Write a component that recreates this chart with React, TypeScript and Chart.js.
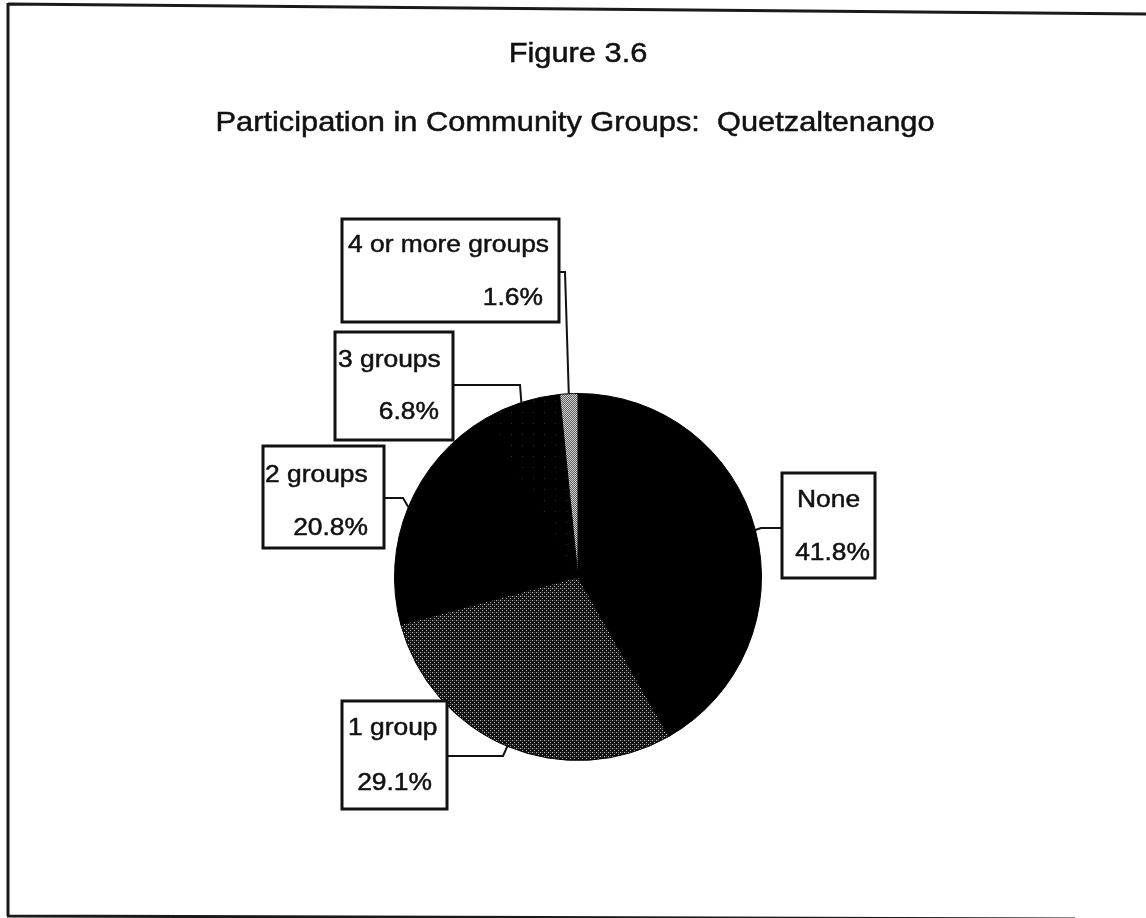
import { useEffect, useRef } from 'react';
import { Chart, registerables } from 'chart.js';

Chart.register(...registerables);

// ---------- data ----------
const figureTitle = 'Figure 3.6';
const chartTitle = 'Participation in Community Groups:  Quetzaltenango';
const categories = ['None', '1 group', '2 groups', '3 groups', '4 or more groups'];
const percentages = [41.8, 29.1, 20.8, 6.8, 1.6];
const percentLabels = ['41.8%', '29.1%', '20.8%', '6.8%', '1.6%'];

// ---------- label layout (px, relative to pie centre) ----------
const boxRects = [
  [204, -104, 93, 105],
  [-236, 124, 105, 108],
  [-315, -131, 121, 102],
  [-243, -245, 118, 108],
  [-236, -358, 217, 103],
];
const elbowPoints = [
  [183, -49],
  [-75, 179],
  [-175, -79],
  [-58, -192],
  [-13, -305],
];
const nameOffsets = [
  [15, 34],
  [6, 34],
  [2, 36],
  [3, 35],
  [6, 33],
];
const pctOffsets = [
  [5, 87],
  [15, 89],
  [16, 89],
  [14, 87],
  [16, 86],
];

const FONT = '"Liberation Sans", Arial, Helvetica, sans-serif';
const XSCALE = 1.1;

function makePattern(size: number, bg: string, dots: [number, number, string][]) {
  const c = document.createElement('canvas');
  c.width = size;
  c.height = size;
  const g = c.getContext('2d')!;
  g.fillStyle = bg;
  g.fillRect(0, 0, size, size);
  for (const [x, y, col] of dots) {
    g.fillStyle = col;
    g.fillRect(x, y, 1, 1);
  }
  return g.createPattern(c, 'repeat') as CanvasPattern;
}

function drawText(ctx: CanvasRenderingContext2D, text: string, x: number, y: number, size: number, align: CanvasTextAlign) {
  ctx.save();
  ctx.translate(x, y);
  ctx.scale(XSCALE, 1);
  ctx.font = `${size}px ${FONT}`;
  ctx.fillStyle = '#111';
  ctx.strokeStyle = '#111';
  ctx.lineWidth = 0.5;
  ctx.textAlign = align;
  ctx.textBaseline = 'alphabetic';
  ctx.fillText(text, 0, 0);
  ctx.strokeText(text, 0, 0);
  ctx.restore();
}

const annotationPlugin = {
  id: 'annotationPlugin',
  afterDraw(chart: any) {
    const ctx: CanvasRenderingContext2D = chart.ctx;
    const W = chart.width;

    // frame
    ctx.save();
    ctx.strokeStyle = '#1a1a1a';
    ctx.lineWidth = 3;
    ctx.beginPath();
    ctx.moveTo(8, 4);
    ctx.lineTo(W, 14);
    ctx.moveTo(8, 3);
    ctx.lineTo(8, 916);
    ctx.moveTo(7, 916);
    ctx.lineTo(1075, 919);
    ctx.stroke();
    ctx.restore();

    // titles
    drawText(ctx, figureTitle, 578, 62, 28, 'center');
    drawText(ctx, chartTitle, 575, 131, 28, 'center');

    // labels
    const meta = chart.getDatasetMeta(0);
    meta.data.forEach((arc: any, i: number) => {
      const cx = arc.x;
      const cy = arc.y;
      const r = arc.outerRadius;
      const mid = (arc.startAngle + arc.endAngle) / 2;
      const ax = cx + Math.cos(mid) * r;
      const ay = cy + Math.sin(mid) * r;
      const [bx, by, bw, bh] = boxRects[i];
      const x0 = cx + bx;
      const y0 = cy + by;
      const ex = cx + elbowPoints[i][0];
      const ey = cy + elbowPoints[i][1];
      const edgeX = x0 > ex ? x0 : x0 + bw;

      ctx.save();
      ctx.strokeStyle = '#111';
      ctx.lineWidth = 2;
      ctx.beginPath();
      ctx.moveTo(ax, ay);
      ctx.lineTo(ex, ey);
      ctx.lineTo(edgeX, ey);
      ctx.stroke();

      ctx.fillStyle = '#fff';
      ctx.fillRect(x0, y0, bw, bh);
      ctx.lineWidth = 3;
      ctx.strokeStyle = '#111';
      ctx.strokeRect(x0, y0, bw, bh);
      ctx.restore();

      drawText(ctx, categories[i], x0 + nameOffsets[i][0], y0 + nameOffsets[i][1], 24, 'left');
      drawText(ctx, percentLabels[i], x0 + bw - pctOffsets[i][0], y0 + pctOffsets[i][1], 24, 'right');
    });
  },
};

export default function App() {
  const canvasRef = useRef<HTMLCanvasElement | null>(null);

  useEffect(() => {
    document.body.style.margin = '0';
    document.body.style.background = '#fff';
    const canvas = canvasRef.current!;
    const oneGroup = makePattern(4, '#121212', [
      [0, 0, '#c8c8c8'],
      [2, 2, '#b0b0b0'],
      [2, 0, '#555555'],
    ]);
    const threeGroups = makePattern(11, '#000', [[5, 5, '#333']]);
    const fourPlus = makePattern(2, '#5a5a5a', [
      [0, 0, '#d4d4d4'],
      [1, 1, '#d4d4d4'],
    ]);

    const chart = new Chart(canvas, {
      type: 'pie',
      data: {
        labels: categories,
        datasets: [
          {
            data: percentages,
            backgroundColor: ['#000000', oneGroup, '#000000', threeGroups, fourPlus] as any,
            borderColor: '#000',
            borderWidth: 1,
          },
        ],
      },
      options: {
        responsive: false,
        maintainAspectRatio: false,
        animation: false,
        events: [],
        layout: { padding: { left: 394, right: 384, top: 393, bottom: 157 } },
        plugins: {
          legend: { display: false },
          tooltip: { enabled: false },
          title: { display: false },
        },
      },
      plugins: [annotationPlugin],
    });
    return () => chart.destroy();
  }, []);

  return (
    <div style={{ width: 1146, height: 918, background: '#fff' }}>
      <canvas ref={canvasRef} width={1146} height={918} style={{ display: 'block' }} />
    </div>
  );
}
